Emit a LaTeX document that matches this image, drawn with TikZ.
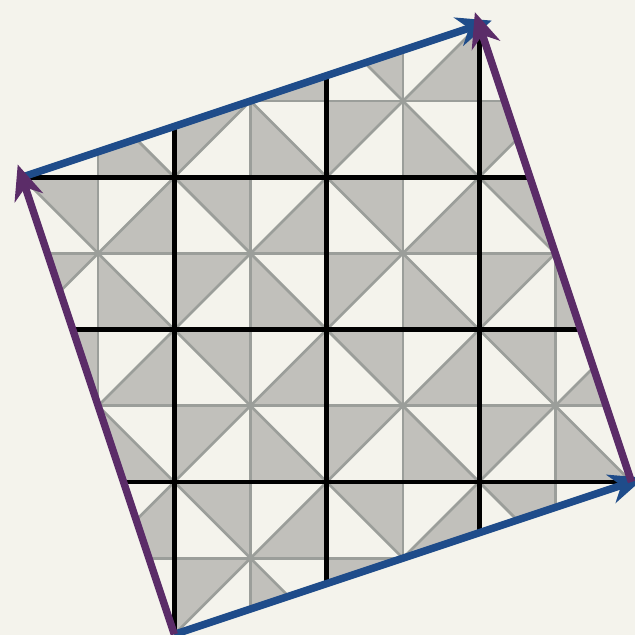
\documentclass[tikz,border=0pt]{standalone}
\usetikzlibrary{arrows.meta}
\definecolor{paper}{HTML}{F4F3EC}
\definecolor{tilegray}{HTML}{C1C0BB}
\definecolor{seamgray}{HTML}{9B9E9A}
\definecolor{latblue}{HTML}{1F4C8A}
\definecolor{latpurple}{HTML}{5B2C68}
\begin{document}
\begin{tikzpicture}[
  x=2cm,y=2cm,
  line join=round,
  >=Stealth,
  tile/.style={fill=tilegray},
  seam/.style={draw=seamgray,line width=1pt},
  celledge/.style={draw=black,line width=1.8pt},
  basis/.style={line width=2.8pt,shorten >=-5pt,arrows={-Stealth[length=13pt,width=11pt,inset=4pt]}}
]
  \path[use as bounding box] (-1.144,-0.003) rectangle (3.023,4.163);
  \fill[paper] (-1.144,-0.003) rectangle (3.023,4.163);

  \coordinate (O) at (0,0);
  \coordinate (A) at (3,1);
  \coordinate (B) at (-1,3);
  \coordinate (C) at (2,4);

  \begin{scope}
    \clip (O) -- (A) -- (C) -- (B) -- cycle;
    \foreach \i in {-1,...,2} {
      \foreach \j in {0,...,3} {
        \fill[tile] (\i,\j+1) -- (\i+0.5,\j+1) -- (\i+0.5,\j+0.5) -- cycle;
        \fill[tile] (\i+0.5,\j+0.5) -- (\i+1,\j+0.5) -- (\i+1,\j+1) -- cycle;
        \fill[tile] (\i+0.5,\j+0.5) -- (\i+0.5,\j) -- (\i+1,\j) -- cycle;
        \fill[tile] (\i,\j+0.5) -- (\i+0.5,\j+0.5) -- (\i,\j) -- cycle;
      }
    }
    \foreach \k in {-1,-0.5,...,3} {
      \draw[seam] (\k,0) -- (\k,4.2);
    }
    \foreach \k in {0,0.5,...,4} {
      \draw[seam] (-1.2,\k) -- (3.2,\k);
    }
    \foreach \n in {-4,...,3} {
      \draw[seam] (\n-1,-1) -- (\n+5,5);
    }
    \foreach \n in {-1,...,6} {
      \draw[seam] (\n+1,-1) -- (\n-5,5);
    }
    \foreach \k in {-1,...,3} {
      \draw[celledge] (\k,-0.1) -- (\k,4.2);
    }
    \foreach \k in {0,...,4} {
      \draw[celledge] (-1.2,\k) -- (3.2,\k);
    }
  \end{scope}

  \draw[basis,latblue] (O) -- (A);
  \draw[basis,latblue] (B) -- (C);
  \draw[basis,latpurple] (O) -- (B);
  \draw[basis,latpurple] (A) -- (C);
\end{tikzpicture}
\end{document}
